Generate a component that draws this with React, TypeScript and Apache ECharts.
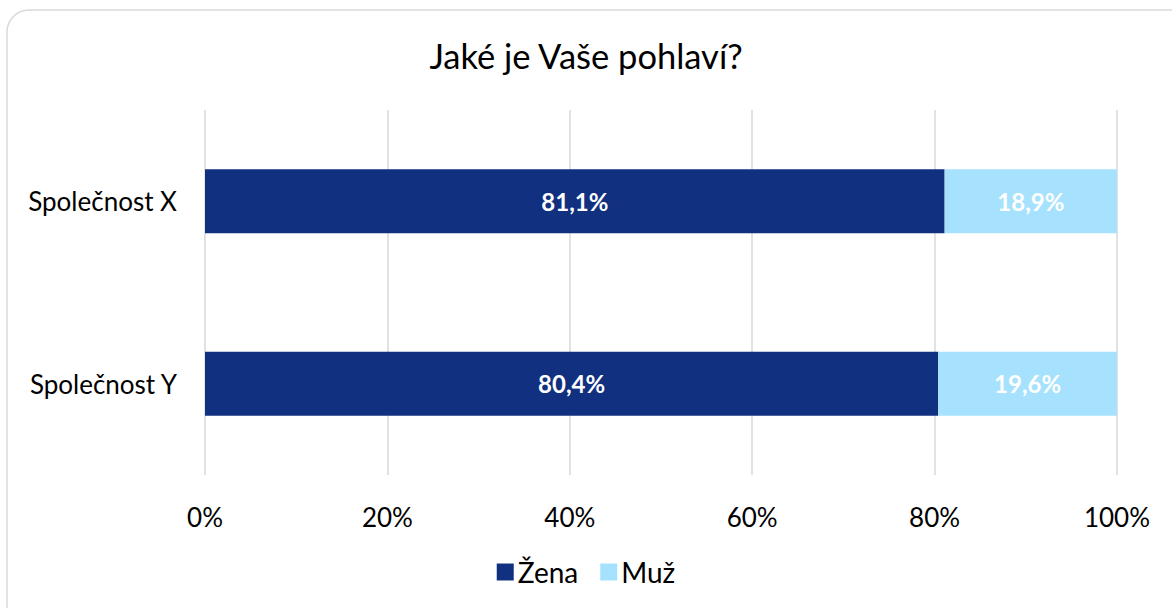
import React, { useEffect, useRef } from "react";
import * as echarts from "echarts";

const categories = ["Společnost Y", "Společnost X"];
const zenaValues = [80.4, 81.1];
const muzValues = [19.6, 18.9];
const seriesNames = ["Žena", "Muž"];
const xTicks = [0, 20, 40, 60, 80, 100];

const FONT = "Lato, 'Open Sans', sans-serif";

export default function App() {
  const ref = useRef<HTMLDivElement>(null);
  useEffect(() => {
    if (!ref.current) return;
    const chart = echarts.init(ref.current, null, { renderer: "svg" });
    const fmt = (p: any) => p.value.toFixed(1).replace(".", ",") + "%";
    chart.setOption({
      animation: false,
      backgroundColor: "#ffffff",
      title: {
        text: "Jaké je Vaše pohlaví?",
        left: "center",
        top: 33,
        textStyle: { fontFamily: FONT, fontSize: 34.5, fontWeight: "normal", color: "#000" },
      },
      graphic: [
        {
          type: "rect",
          shape: { x: 7, y: 10, width: 1185, height: 620, r: 22 },
          style: { fill: "none", stroke: "#d9d9d9", lineWidth: 1.5 },
          silent: true,
        },
      ],
      legend: {
        bottom: 17,
        left: "center",
        itemWidth: 17,
        itemHeight: 17,
        itemGap: 22,
        icon: "rect",
        textStyle: { fontFamily: FONT, fontSize: 28, color: "#000", padding: [0, 0, 0, -1] },
        data: seriesNames,
      },
      grid: { left: 205, right: 55, top: 110, bottom: 133 },
      xAxis: {
        type: "value",
        min: xTicks[0],
        max: xTicks[xTicks.length - 1],
        interval: 20,
        axisLine: { show: false },
        axisTick: { show: false },
        axisLabel: {
          formatter: (v: number) => v + "%",
          fontFamily: FONT,
          fontSize: 26,
          color: "#000",
          margin: 29,
        },
        splitLine: { show: true, lineStyle: { color: "#d9d9d9", width: 1.5 } },
      },
      yAxis: {
        type: "category",
        data: categories,
        axisLine: { show: false },
        axisTick: { show: false },
        axisLabel: { fontFamily: FONT, fontSize: 26, color: "#000", margin: 28 },
      },
      series: [
        {
          name: seriesNames[0],
          type: "bar",
          stack: "total",
          data: zenaValues,
          barWidth: 64,
          itemStyle: { color: "#11307f" },
          label: {
            show: true,
            position: "inside",
            formatter: fmt,
            color: "#fff",
            fontFamily: FONT,
            fontWeight: "bold",
            fontSize: 24,
          },
        },
        {
          name: seriesNames[1],
          type: "bar",
          stack: "total",
          data: muzValues,
          barWidth: 64,
          itemStyle: { color: "#a6e2fe" },
          label: {
            show: true,
            position: "inside",
            formatter: fmt,
            color: "#fff",
            fontFamily: FONT,
            fontWeight: "bold",
            fontSize: 24,
          },
        },
      ],
    });
    return () => chart.dispose();
  }, []);
  return (
    <div
      ref={ref}
      style={{ position: "fixed", left: 0, top: 0, width: 1172, height: 608, background: "#fff" }}
    />
  );
}
